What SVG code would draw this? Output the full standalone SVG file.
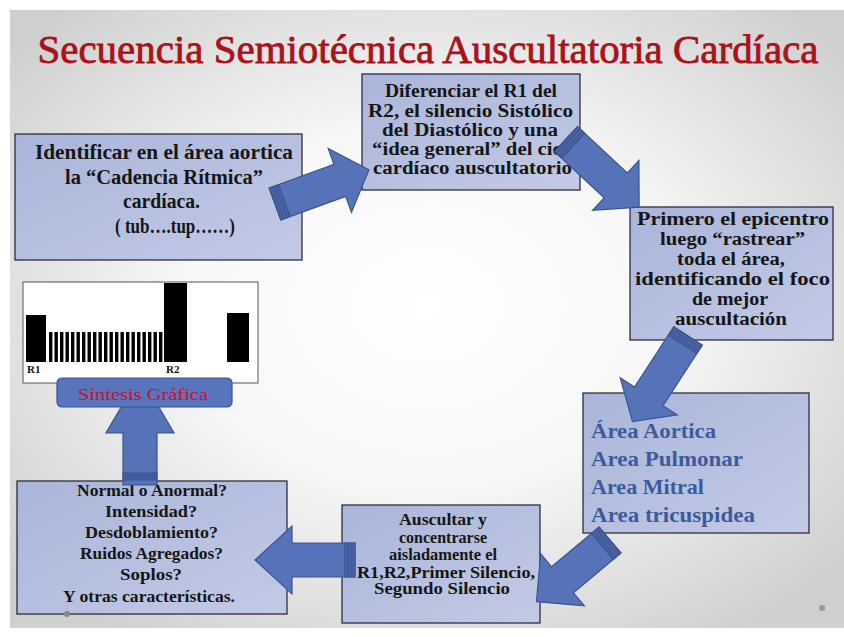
<svg xmlns="http://www.w3.org/2000/svg" width="844" height="637" viewBox="0 0 844 637">
<defs>
<radialGradient id="bg" cx="50%" cy="48%" r="65%">
<stop offset="0" stop-color="#ffffff"/>
<stop offset="0.45" stop-color="#f7f7f7"/>
<stop offset="1" stop-color="#cfcfcf"/>
</radialGradient>
<linearGradient id="boxg" x1="0" y1="0" x2="1" y2="1">
<stop offset="0" stop-color="#a9b5d9"/>
<stop offset="1" stop-color="#c3cae6"/>
</linearGradient>
<polygon id="arrA" points="0,-17 69,-17 69,-34 100,0 69,34 69,17 0,17"/>
</defs>
<style>
.box{fill:url(#boxg);stroke:#1e2030;stroke-width:1.2}
.t{font-family:"Liberation Serif","DejaVu Serif",serif;font-weight:bold;fill:#161616;text-anchor:middle}
.area{font-family:"Liberation Serif","DejaVu Serif",serif;font-weight:bold;fill:#3d5b9b;font-size:22px}
.arrow{fill:#5673ba;stroke:#3c5392;stroke-width:1.2}
.stripe{fill:#48609f;stroke:#3c5392;stroke-width:1}
.bar{fill:#000}
</style>
<rect x="0" y="0" width="844" height="637" fill="#ffffff"/>
<rect x="10" y="10" width="834" height="618" fill="url(#bg)"/>

<text x="428" y="63" font-family="Liberation Serif, DejaVu Serif, serif" font-size="39" fill="#ab1219" stroke="#ab1219" stroke-width="0.8" text-anchor="middle" textLength="781" lengthAdjust="spacingAndGlyphs">Secuencia Semiotécnica Auscultatoria Cardíaca</text>

<g id="node-identificar">
<rect class="box" x="15" y="134" width="287" height="126"/>
<text class="t" font-size="20" x="164" y="159" textLength="258" lengthAdjust="spacingAndGlyphs">Identificar en el área aortica</text>
<text class="t" font-size="20" x="164" y="184" textLength="198" lengthAdjust="spacingAndGlyphs">la “Cadencia Rítmica”</text>
<text class="t" font-size="20" x="161.5" y="208" textLength="77" lengthAdjust="spacingAndGlyphs">cardíaca.</text>
<text class="t" font-size="20" x="175" y="233" textLength="120" lengthAdjust="spacingAndGlyphs">( tub….tup……)</text>
</g>

<g id="node-diferenciar">
<rect class="box" x="362" y="74" width="218" height="116"/>
<text class="t" font-size="18" x="471" y="97" textLength="172" lengthAdjust="spacingAndGlyphs">Diferenciar el R1 del</text>
<text class="t" font-size="18" x="470.5" y="117" textLength="205" lengthAdjust="spacingAndGlyphs">R2, el silencio Sistólico</text>
<text class="t" font-size="18" x="470" y="136" textLength="176" lengthAdjust="spacingAndGlyphs">del Diastólico  y una</text>
<text class="t" font-size="18" x="475" y="155" textLength="206" lengthAdjust="spacingAndGlyphs">“idea general” del ciclo</text>
<text class="t" font-size="18" x="472.5" y="174" textLength="199" lengthAdjust="spacingAndGlyphs">cardíaco auscultatorio</text>
</g>

<g id="node-primero">
<rect class="box" x="630" y="207" width="203" height="133"/>
<text class="t" font-size="18" x="733" y="225" textLength="192" lengthAdjust="spacingAndGlyphs">Primero el epicentro</text>
<text class="t" font-size="18" x="732.5" y="245" textLength="145" lengthAdjust="spacingAndGlyphs">luego “rastrear”</text>
<text class="t" font-size="18" x="731" y="265" textLength="108" lengthAdjust="spacingAndGlyphs">toda el área,</text>
<text class="t" font-size="18" x="732.5" y="285" textLength="195" lengthAdjust="spacingAndGlyphs">identificando el foco</text>
<text class="t" font-size="18" x="730" y="305" textLength="76" lengthAdjust="spacingAndGlyphs">de mejor</text>
<text class="t" font-size="18" x="731" y="325" textLength="112" lengthAdjust="spacingAndGlyphs">auscultación</text>
</g>

<g id="node-areas">
<rect class="box" x="583" y="393" width="226" height="140"/>
<text class="area" x="591" y="438" textLength="125" lengthAdjust="spacingAndGlyphs">Área Aortica</text>
<text class="area" x="591" y="466" textLength="152" lengthAdjust="spacingAndGlyphs">Area Pulmonar</text>
<text class="area" x="591" y="494" textLength="113" lengthAdjust="spacingAndGlyphs">Area Mitral</text>
<text class="area" x="591" y="522" textLength="164" lengthAdjust="spacingAndGlyphs">Area tricuspidea</text>
</g>

<g id="node-auscultar">
<rect class="box" x="342" y="505" width="198" height="118"/>
<text class="t" font-size="16" x="443" y="525" textLength="88" lengthAdjust="spacingAndGlyphs">Auscultar y</text>
<text class="t" font-size="16" x="443" y="543" textLength="88" lengthAdjust="spacingAndGlyphs">concentrarse</text>
<text class="t" font-size="16" x="443" y="560" textLength="108" lengthAdjust="spacingAndGlyphs">aisladamente el</text>
<text class="t" font-size="16" x="446" y="578" textLength="178" lengthAdjust="spacingAndGlyphs">R1,R2,Primer Silencio,</text>
<text class="t" font-size="16" x="442" y="594" textLength="136" lengthAdjust="spacingAndGlyphs">Segundo Silencio</text>
</g>

<g id="node-normal">
<rect class="box" x="17" y="481" width="270" height="133"/>
<text class="t" font-size="17" x="152" y="496" textLength="150" lengthAdjust="spacingAndGlyphs">Normal o Anormal?</text>
<text class="t" font-size="17" x="151" y="517" textLength="92" lengthAdjust="spacingAndGlyphs">Intensidad?</text>
<text class="t" font-size="17" x="151.5" y="538" textLength="133" lengthAdjust="spacingAndGlyphs">Desdoblamiento?</text>
<text class="t" font-size="17" x="151.5" y="559" textLength="143" lengthAdjust="spacingAndGlyphs">Ruidos Agregados?</text>
<text class="t" font-size="17" x="151" y="580" textLength="62" lengthAdjust="spacingAndGlyphs">Soplos?</text>
<text class="t" font-size="17" x="149" y="602" textLength="172" lengthAdjust="spacingAndGlyphs">Y otras características.</text>
</g>

<g id="connectors">
<g transform="translate(275,204) rotate(-20)"><use href="#arrA" class="arrow"/><rect class="stripe" x="0" y="-17" width="4" height="34"/><rect class="stripe" x="6" y="-17" width="4" height="34"/></g>
<g transform="translate(566,139) rotate(43)"><polygon class="arrow" points="0,-17 68,-17 68,-34 100,0 68,34 68,17 0,17"/><rect class="stripe" x="0" y="-17" width="4" height="34"/><rect class="stripe" x="6" y="-17" width="4" height="34"/></g>
<g transform="translate(688,336) rotate(123)"><polygon class="arrow" points="0,-17 72,-17 72,-34 102,0 72,34 72,17 0,17"/><rect class="stripe" x="0" y="-17" width="4" height="34"/><rect class="stripe" x="6" y="-17" width="4" height="34"/></g>
<g transform="translate(610,540) rotate(140)"><polygon class="arrow" points="0,-17 62,-17 62,-34 96,0 62,34 62,17 0,17"/><rect class="stripe" x="0" y="-17" width="4" height="34"/><rect class="stripe" x="6" y="-17" width="4" height="34"/></g>
<g transform="translate(355,560) rotate(180)"><polygon class="arrow" points="0,-17 63,-17 63,-34 100,0 63,34 63,17 0,17"/><rect class="stripe" x="0" y="-17" width="4" height="34"/><rect class="stripe" x="6" y="-17" width="4" height="34"/></g>
<g transform="translate(140,485) rotate(-90)"><polygon class="arrow" points="0,-17 52,-17 52,-34 110,0 52,34 52,17 0,17"/><rect class="stripe" x="5" y="-17" width="3" height="34"/><rect class="stripe" x="9" y="-17" width="3" height="34"/></g>
</g>

<g id="node-grafica">
<rect x="23" y="282" width="235" height="101" fill="#ffffff" stroke="#555" stroke-width="1"/>
<rect class="bar" x="26" y="315" width="20" height="47"/>
<rect class="bar" x="164" y="283" width="23" height="79"/>
<rect class="bar" x="227" y="313" width="22" height="49"/>
<g class="bar">
<rect x="49" y="332" width="3.4" height="30"/><rect x="54.5" y="332" width="3.4" height="30"/><rect x="60" y="332" width="3.4" height="30"/><rect x="65.5" y="332" width="3.4" height="30"/><rect x="71" y="332" width="3.4" height="30"/><rect x="76.5" y="332" width="3.4" height="30"/><rect x="82" y="332" width="3.4" height="30"/><rect x="87.5" y="332" width="3.4" height="30"/><rect x="93" y="332" width="3.4" height="30"/><rect x="98.5" y="332" width="3.4" height="30"/><rect x="104" y="332" width="3.4" height="30"/><rect x="109.5" y="332" width="3.4" height="30"/><rect x="115" y="332" width="3.4" height="30"/><rect x="120.5" y="332" width="3.4" height="30"/><rect x="126" y="332" width="3.4" height="30"/><rect x="131.5" y="332" width="3.4" height="30"/><rect x="137" y="332" width="3.4" height="30"/><rect x="142.5" y="332" width="3.4" height="30"/><rect x="148" y="332" width="3.4" height="30"/><rect x="153.5" y="332" width="3.4" height="30"/><rect x="159" y="332" width="3.4" height="30"/>
</g>
<text x="27" y="373" font-family="Liberation Serif, serif" font-weight="bold" font-size="11" fill="#111">R1</text>
<text x="166" y="373" font-family="Liberation Serif, serif" font-weight="bold" font-size="11" fill="#111">R2</text>
<rect x="57" y="378" width="175" height="29" rx="5" fill="#5874bc" stroke="#3c5392" stroke-width="1.2"/>
<text x="143" y="400" font-family="Liberation Serif, serif" font-size="17" fill="#c8102e" text-anchor="middle" textLength="130" lengthAdjust="spacingAndGlyphs">Síntesis Gráfica</text>
</g>

<circle cx="67" cy="614" r="3" fill="#888"/>
<circle cx="822" cy="608" r="3" fill="#999"/>
</svg>
